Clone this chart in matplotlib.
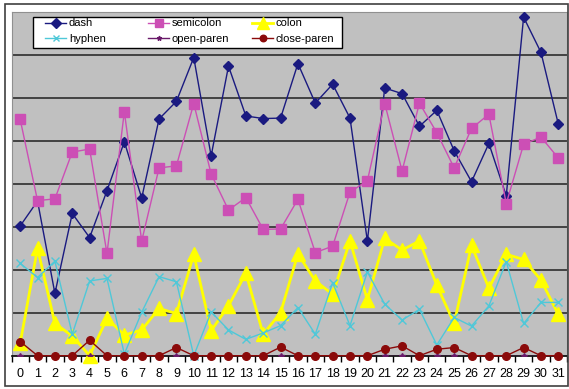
import numpy as np
import matplotlib.pyplot as plt
from matplotlib.patches import Rectangle

plt.rcParams['font.family'] = ['Liberation Sans', 'DejaVu Sans']

positions = list(range(32))
dash = [3.02, 3.60, 1.45, 3.31, 2.75, 3.84, 4.98, 3.67, 5.51, 5.92, 6.94, 4.65, 6.74, 5.58, 5.52, 5.53,
        6.80, 5.88, 6.32, 5.53, 2.67, 6.23, 6.10, 5.34, 5.71, 4.77, 4.05, 4.94, 3.72, 7.88, 7.06, 5.39]
semicolon = [5.50, 3.61, 3.65, 4.74, 4.81, 2.38, 5.68, 2.67, 4.37, 4.42, 5.87, 4.23, 3.39, 3.68, 2.94, 2.95,
             3.64, 2.40, 2.55, 3.81, 4.07, 5.87, 4.30, 5.88, 5.19, 4.37, 5.29, 5.62, 3.54, 4.92, 5.09, 4.60]
colon = [0.29, 2.50, 0.75, 0.46, 0.00, 0.87, 0.48, 0.60, 1.10, 0.98, 2.36, 0.58, 1.16, 1.92, 0.50, 1.00,
         2.37, 1.74, 1.43, 2.67, 1.30, 2.73, 2.46, 2.67, 1.64, 0.75, 2.57, 1.57, 2.36, 2.24, 1.76, 0.96]
hyphen = [2.15, 1.82, 2.20, 0.50, 1.74, 1.80, 0.04, 1.01, 1.84, 1.72, 0.00, 1.02, 0.60, 0.38, 0.53, 0.70,
          1.12, 0.50, 1.70, 0.70, 1.95, 1.20, 0.83, 1.08, 0.25, 0.89, 0.69, 1.16, 2.19, 0.75, 1.24, 1.24]
open_paren = [0.0] * 32
close_paren = [0.33, 0, 0, 0, 0.36, 0, 0, 0, 0, 0.19, 0, 0, 0, 0, 0, 0.20,
               0, 0, 0, 0, 0, 0.15, 0.23, 0, 0.15, 0.19, 0, 0, 0, 0.19, 0, 0]

W, H = 569, 389
fig = plt.figure(figsize=(W / 100, H / 100), dpi=100)
fig.patch.set_facecolor('white')
# outer chart border
fig.patches.append(Rectangle((5 / W, 3 / H), 563 / W, 382 / H, transform=fig.transFigure,
                             fill=False, edgecolor='#404040', lw=1.2))

ax = fig.add_axes([11.5 / W, 33.3 / H, 555.5 / W, 343.7 / H])
ax.set_facecolor('#C0C0C0')
ax.set_xlim(-0.5, 31.5)
ax.set_ylim(0, 8)
for g in range(1, 8):
    ax.axhline(g, color='#202020', lw=1.1, zorder=1)

l_dash, = ax.plot(positions, dash, color='#1A1A80', lw=1, marker='D', ms=5.5, label='dash', zorder=3)
l_semi, = ax.plot(positions, semicolon, color='#CC4FB5', lw=1, marker='s', ms=6.5, label='semicolon', zorder=3)
l_colon, = ax.plot(positions, colon, color='#FFFF00', lw=2, marker='^', ms=9.5, label='colon', zorder=3,
                   clip_on=False)
l_hyph, = ax.plot(positions, hyphen, color='#4FC8D8', lw=1, marker='x', ms=5.5, mew=1, label='hyphen', zorder=3,
                  clip_on=False)
l_open, = ax.plot(positions, open_paren, color='#6A1A6A', lw=1, marker='*', ms=4, label='open-paren', zorder=3)
l_close, = ax.plot(positions, close_paren, color='#8B0A0A', lw=1, marker='o', ms=5.5, label='close-paren', zorder=4,
                   clip_on=False)

for s in ['top', 'left', 'right']:
    ax.spines[s].set_color('#909090')
    ax.spines[s].set_linewidth(0.8)
ax.spines['bottom'].set_color('black')
ax.spines['bottom'].set_linewidth(1.2)

ax.set_yticks([])
ax.set_xticks(positions)
ax.set_xticklabels([str(p) for p in positions], fontsize=9)
ax.tick_params(axis='x', which='major', length=0, pad=9)
ax.set_xticks(np.arange(-0.5, 32, 1), minor=True)
ax.tick_params(axis='x', which='minor', length=4, width=1, direction='out', color='black')

# legend box drawn by hand; one borderless legend per column so columns sit where Excel put them
fig.patches.append(Rectangle((33 / W, 1 - 48 / H), 309 / W, 31 / H, transform=fig.transFigure,
                             facecolor='white', edgecolor='black', lw=1, zorder=5))
columns = [(45, [l_dash, l_hyph]), (148, [l_semi, l_open]), (252, [l_colon, l_close])]
for x0, hs in columns:
    leg = fig.legend(handles=hs, ncol=1, loc='upper left', bbox_to_anchor=(x0 / W, 1 - 18.5 / H),
                     fontsize=8, frameon=False, borderpad=0, labelspacing=0.45, handlelength=1.9,
                     handletextpad=0.25, borderaxespad=0, markerscale=0.85)
    leg.set_zorder(6)

fig.savefig('out.png', dpi=100)
